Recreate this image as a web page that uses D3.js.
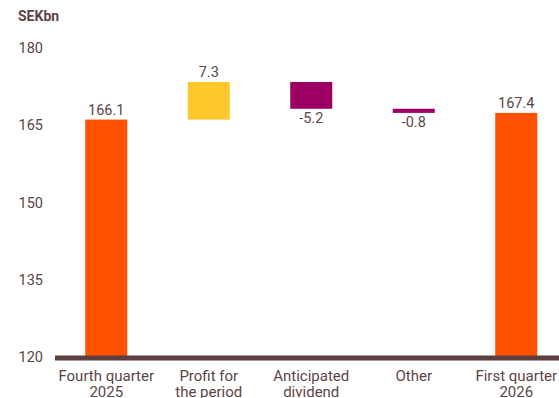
<!DOCTYPE html>
<html>
<head>
<meta charset="UTF-8">
<script src="https://d3js.org/d3.v7.min.js"></script>
<style>
    body {margin:0; background:#fff;}
    text {font-family: Roboto, "Open Sans", sans-serif; fill:#5b4546;}
</style>
</head>
<body>
<div id="chart"></div>
<script>
    // data
    var categories = ["Fourth quarter\n2025", "Profit for\nthe period", "Anticipated\ndividend", "Other", "First quarter\n2026"];
    var values = [166.1, 7.3, -5.2, -0.8, 167.4];
    var kinds = ["total", "delta", "delta", "delta", "total"];
    var yTicks = [120, 135, 150, 165, 180];

    var width = 559, height = 398;

    var svg = d3.select("#chart").append("svg")
        .attr("width", width)
        .attr("height", height);

    var x = d3.scaleBand()
        .domain(categories)
        .range([55, 567.5])
        .paddingInner(0.59)
        .paddingOuter(0.295);

    var y = d3.scaleLinear()
        .domain([120, 180])
        .range([357, 48]);

    // build waterfall steps
    var running = 0;
    var bars = values.map(function(v, i) {
        var b;
        if (kinds[i] == "total") {
            b = {y0: 120, y1: v};
            running = v;
        } else {
            b = {y0: running, y1: running + v};
            running = running + v;
        }
        b.v = v; b.kind = kinds[i]; b.cat = categories[i];
        return b;
    });

    function colour(d) {
        if (d.kind == "total") return "#ff5100";
        return d.v > 0 ? "#ffc72c" : "#9b0062";
    }

    svg.append("text")
        .attr("x", 18).attr("y", 21)
        .style("font-size", "14px")
        .style("font-weight", "bold")
        .text("SEKbn");

    // y tick labels
    svg.selectAll(".ytick")
        .data(yTicks)
        .enter().append("text")
        .attr("class", "ytick")
        .attr("x", 43)
        .attr("y", function(d) { return y(d); })
        .attr("dy", "0.35em")
        .attr("text-anchor", "end")
        .style("font-size", "14.5px")
        .text(function(d) { return d; });

    svg.selectAll("rect.bar")
        .data(bars)
        .enter().append("rect")
        .attr("class", "bar")
        .attr("x", function(d) { return x(d.cat); })
        .attr("width", x.bandwidth())
        .attr("y", function(d) { return y(Math.max(d.y0, d.y1)); })
        .attr("height", function(d) { return Math.abs(y(d.y0) - y(d.y1)); })
        .style("fill", colour);

    // value labels
    svg.selectAll(".val")
        .data(bars)
        .enter().append("text")
        .attr("class", "val")
        .attr("x", function(d) { return x(d.cat) + x.bandwidth() / 2; })
        .attr("y", function(d) {
            if (d.v >= 0) return y(Math.max(d.y0, d.y1)) - 5;
            return y(Math.min(d.y0, d.y1)) + 14;
        })
        .attr("text-anchor", "middle")
        .style("font-size", "14.5px")
        .text(function(d) { return d.v.toFixed(1); });

    // axis line
    svg.append("line")
        .attr("x1", 55).attr("x2", width)
        .attr("y1", y(120) + 1).attr("y2", y(120) + 1)
        .style("stroke", "#5e3f3f")
        .style("stroke-width", 5);

    // category labels
    var cats = svg.selectAll(".cat")
        .data(categories)
        .enter().append("text")
        .attr("class", "cat")
        .attr("text-anchor", "middle")
        .style("font-size", "15px")
        .attr("transform", function(d) { return "translate(" + (x(d) + x.bandwidth() / 2) + ",381)"; });

    cats.selectAll("tspan")
        .data(function(d) { return d.split("\n"); })
        .enter().append("tspan")
        .attr("x", 0)
        .attr("dy", function(d, i) { return i == 0 ? 0 : 16; })
        .text(function(d) { return d; });
</script>
</body>
</html>
